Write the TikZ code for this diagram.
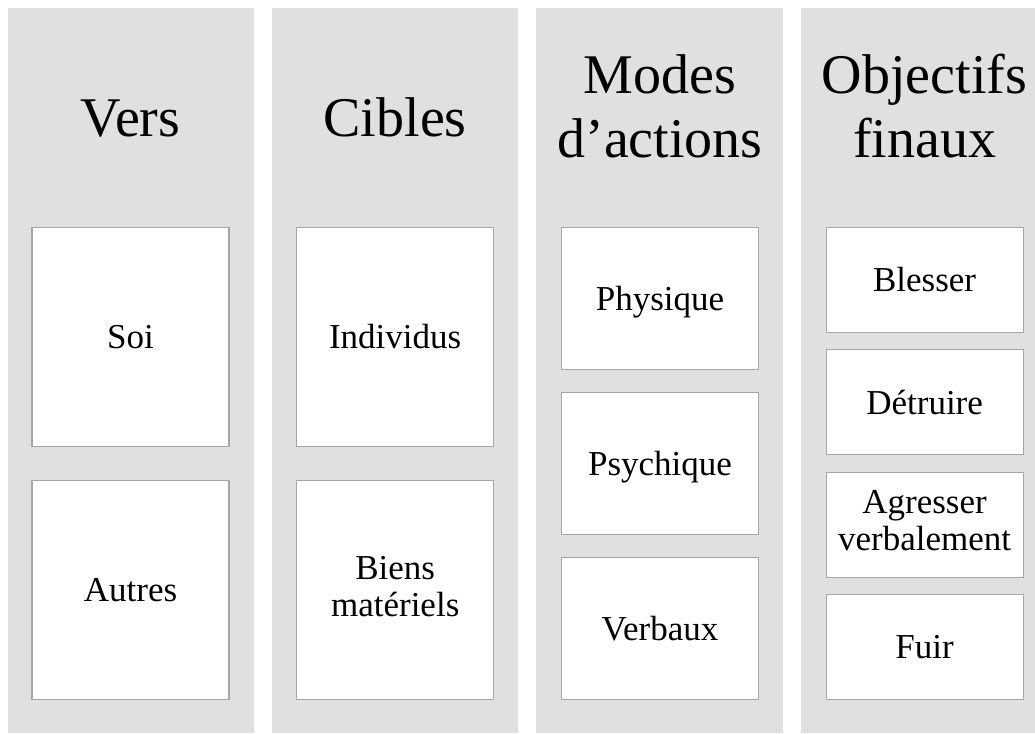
\documentclass[tikz,border=0pt]{standalone}
\usepackage{fontspec}
\setmainfont{Liberation Serif}
\definecolor{colfill}{HTML}{E0E0E0}
\definecolor{boxline}{HTML}{A6A6A6}
% strut giving every line the same height and depth
\newcommand\linestrut{\vrule height 0.9em depth 0.22em width 0pt}
\tikzset{
  column/.style={fill=colfill, draw=none, inner sep=0pt, minimum width=#1, minimum height=725pt},
  header/.style={align=center, inner sep=0pt, font=\fontsize{56}{64}\selectfont,
    execute at begin node=\linestrut, execute at end node=\linestrut},
  item/.style={draw=boxline, line width=1.2pt, fill=white, inner sep=0pt, align=center,
    minimum width=197pt, minimum height=#1,
    font=\fontsize{35}{37}\selectfont,
    execute at begin node=\linestrut, execute at end node=\linestrut},
}
\begin{document}
\begin{tikzpicture}[x=1pt, y=-1pt]
\useasboundingbox (0,0) rectangle (1035,733);
% gray columns
\node[column=246pt] (colA) at (131,370.5) {};
\node[column=246pt] (colB) at (395,370.5) {};
\node[column=247pt] (colC) at (659.5,370.5) {};
\node[column=234pt] (colD) at (918,370.5) {};
% column titles
\node[header] (hA) at (130.5,117) {Vers};
\node[header] (hB) at (395.2,117) {Cibles};
\node[header] (hC) at (660,112) {Modes\\d’actions};
\node[header] (hD) at (924.6,112) {Objectifs\\finaux};
% Vers
\node[item=219pt] (soi) at (130.5,337) {Soi};
\node[item=219pt] (autres) at (130.5,590) {Autres};
% Cibles
\node[item=219pt] (indiv) at (395.2,337) {Individus};
\node[item=219pt] (biens) at (395.2,590) {Biens\\matériels};
% Modes d'actions
\node[item=142pt] (phys) at (660,298.5) {Physique};
\node[item=142pt] (psy) at (660,463.5) {Psychique};
\node[item=142pt] (verb) at (660,628.5) {Verbaux};
% Objectifs finaux
\node[item=105pt] (bless) at (924.6,280) {Blesser};
\node[item=105pt] (detr) at (924.6,402.3) {Détruire};
\node[item=105pt] (agr) at (924.6,524.7) {Agresser\\verbalement};
\node[item=105pt] (fuir) at (924.6,647) {Fuir};
\end{tikzpicture}
\end{document}
